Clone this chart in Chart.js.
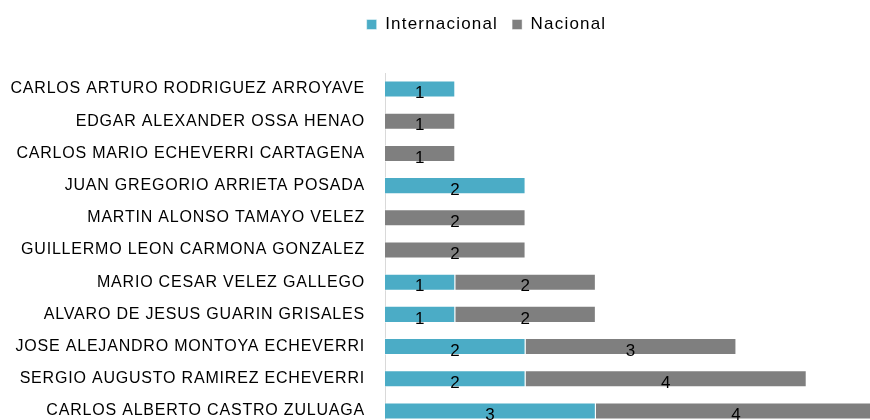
<!DOCTYPE html>
<html lang="es">
<head>
  <meta charset="UTF-8">
  <title>Internacional / Nacional</title>
  <script src="https://cdn.jsdelivr.net/npm/chart.js"></script>
  <style>
    html, body { margin: 0; padding: 0; background: #fff; overflow: hidden; }
    #autoresChart { position: absolute; left: 0; top: 0; }
  </style>
</head>
<body>
<canvas id="autoresChart" width="887" height="440"></canvas>

<script>
  // datos (de arriba hacia abajo)
  const nombres = [
    "CARLOS ARTURO RODRIGUEZ ARROYAVE",
    "EDGAR ALEXANDER OSSA HENAO",
    "CARLOS MARIO ECHEVERRI CARTAGENA",
    "JUAN GREGORIO ARRIETA POSADA",
    "MARTIN ALONSO TAMAYO VELEZ",
    "GUILLERMO LEON CARMONA GONZALEZ",
    "MARIO CESAR VELEZ GALLEGO",
    "ALVARO DE JESUS GUARIN GRISALES",
    "JOSE ALEJANDRO MONTOYA ECHEVERRI",
    "SERGIO AUGUSTO RAMIREZ ECHEVERRI",
    "CARLOS ALBERTO CASTRO ZULUAGA"
  ];
  const internacional = [1, null, null, 2, null, null, 1, 1, 2, 2, 3];
  const nacional      = [null, 1, 1, null, 2, 2, 2, 2, 3, 4, 4];
  const maxX = 7;

  const ESPACIADO = "0.8px";         // ejes y numeros
  const ESPACIADO_LEYENDA = "1.2px"; // leyenda

  // numeros dentro de cada barra
  const etiquetasBarras = {
    id: "etiquetasBarras",
    afterDatasetsDraw(chart) {
      const ctx = chart.ctx;
      ctx.save();
      ctx.font = '17px "Liberation Sans"';
      ctx.fillStyle = "#000";
      ctx.textAlign = "center";
      ctx.textBaseline = "middle";
      chart.data.datasets.forEach((ds, i) => {
        chart.getDatasetMeta(i).data.forEach((bar, j) => {
          const v = ds.data[j];
          if (!v) return;
          const c = bar.getCenterPoint();
          ctx.fillText(String(v), c.x, c.y + 4.5);
        });
      });
      ctx.restore();
    }
  };

  // leyenda: mas espacio debajo, letras separadas y centrada sobre el grafico original
  const ajustes = {
    id: "ajustes",
    beforeLayout(chart) {
      chart.ctx.letterSpacing = ESPACIADO;
      const legend = chart.legend;
      if (legend && !legend._parcheado) {
        const fitOriginal = legend.fit;
        const drawOriginal = legend.draw;
        legend.fit = function () {
          this.ctx.letterSpacing = ESPACIADO_LEYENDA;
          fitOriginal.call(this);
          this.ctx.letterSpacing = ESPACIADO;
          this.height += 30;
        };
        legend.draw = function () {
          this.ctx.letterSpacing = ESPACIADO_LEYENDA;
          drawOriginal.call(this);
          this.ctx.letterSpacing = ESPACIADO;
        };
        legend._parcheado = true;
      }
    },
    afterLayout(chart) {
      chart.legend.left += 43;
      chart.legend.right += 43;
    },
    beforeDraw(chart) {
      chart.ctx.letterSpacing = ESPACIADO;
    }
  };

  document.addEventListener("DOMContentLoaded", function () {
    const ctx = document.getElementById("autoresChart").getContext("2d");

    new Chart(ctx, {
      type: "bar",
      data: {
        labels: nombres,
        datasets: [
          {
            label: "Internacional",
            data: internacional,
            backgroundColor: "#4BACC6",
            borderColor: "rgba(255,255,255,0.45)",
            borderWidth: 1,
            categoryPercentage: 1,
            barPercentage: 0.53
          },
          {
            label: "Nacional",
            data: nacional,
            backgroundColor: "#7F7F7F",
            borderColor: "rgba(255,255,255,0.45)",
            borderWidth: 1,
            categoryPercentage: 1,
            barPercentage: 0.53
          }
        ]
      },
      options: {
        indexAxis: "y",
        responsive: false,
        animation: false,
        layout: {
          padding: { left: 10, right: 10, top: 2, bottom: 13 }
        },
        plugins: {
          legend: {
            position: "top",
            labels: {
              boxWidth: 10,
              boxHeight: 10,
              padding: 14,
              color: "#000",
              font: { family: "Liberation Sans", size: 17 }
            }
          },
          tooltip: { enabled: false }
        },
        scales: {
          x: {
            stacked: true,
            display: false,
            min: 0,
            max: maxX
          },
          y: {
            stacked: true,
            grid: { display: false, drawTicks: false },
            border: { display: true, color: "#d9d9d9", width: 1 },
            ticks: {
              color: "#000",
              padding: 20,
              font: { family: "Liberation Sans", size: 16 }
            },
            afterFit(scale) {
              scale.width = 375;
              scale.paddingTop = 0;
              scale.paddingBottom = 0;
            }
          }
        }
      },
      plugins: [etiquetasBarras, ajustes]
    });
  });
</script>
</body>
</html>
